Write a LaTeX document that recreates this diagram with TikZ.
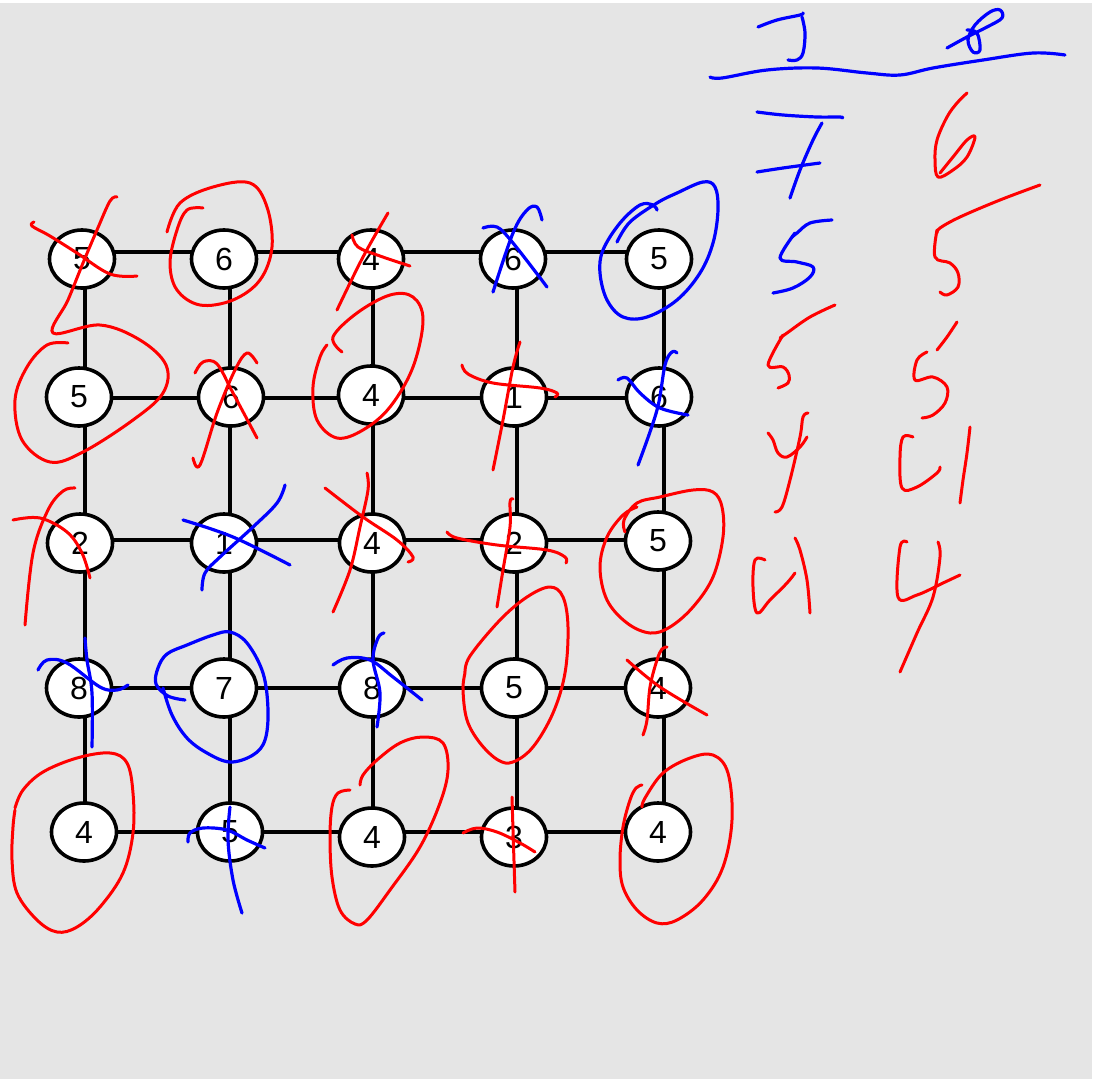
\documentclass[tikz,border=0pt]{standalone}
\usepackage{fontspec}
\setmainfont{Liberation Sans}
\usetikzlibrary{shapes.geometric}
\definecolor{bg}{HTML}{E5E5E5}
\definecolor{pr}{HTML}{FF0000}
\definecolor{pb}{HTML}{0000FF}
\begin{document}
\begin{tikzpicture}[x=1pt,y=-1pt,
  vert/.style={ellipse, draw=black, fill=white, line width=3.6pt, minimum width=65pt, minimum height=58pt, inner sep=0pt, font=\fontsize{32}{36}\selectfont},
  edge/.style={line width=3.8pt, draw=black},
  rs/.style={draw=pr, line width=3pt, line cap=round, line join=round},
  bs/.style={draw=pb, line width=3.2pt, line cap=round, line join=round},
  sm/.style={smooth, tension=0.6}]
\useasboundingbox (0,0) rectangle (1100,1082);
\fill[white] (0,0) rectangle (1100,1082);
\fill[bg] (0,3) rectangle (1092,1079);
% grid points
\foreach \r/\y in {a/252,b/398,c/540,d/688,e/832}{
  \foreach \c/\x in {1/85,2/230,3/373,4/517,5/664}{
    \coordinate (g\r\c) at (\x,\y);
  }
}
% edges
\foreach \r in {a,b,c,d,e}{
  \draw[edge] (g\r1) -- (g\r2) -- (g\r3) -- (g\r4) -- (g\r5);
}
\foreach \c in {1,...,5}{
  \draw[edge] (ga\c) -- (gb\c) -- (gc\c) -- (gd\c) -- (ge\c);
}
% nodes
\node[vert] (a1) at (82,259) {5};
\node[vert] (a2) at (224,259) {6};
\node[vert] (a3) at (371,259) {4};
\node[vert] (a4) at (513,259) {6};
\node[vert] (a5) at (659,259) {5};
\node[vert] (b1) at (79,397) {5};
\node[vert] (b2) at (231,397) {6};
\node[vert] (b3) at (371,395) {4};
\node[vert] (b4) at (514,397) {1};
\node[vert] (b5) at (659,397) {6};
\node[vert] (c1) at (80,543) {2};
\node[vert] (c2) at (224,543) {1};
\node[vert] (c3) at (372,543) {4};
\node[vert] (c4) at (514,543) {2};
\node[vert] (c5) at (658,541) {5};
\node[vert] (d1) at (79,688) {8};
\node[vert] (d2) at (224,688) {7};
\node[vert] (d3) at (372,688) {8};
\node[vert] (d4) at (514,688) {5};
\node[vert] (d5) at (658,688) {4};
\node[vert] (e1) at (84,832) {4};
\node[vert] (e2) at (230,832) {5};
\node[vert] (e3) at (372,837) {4};
\node[vert] (e4) at (514,837) {3};
\node[vert] (e5) at (658,832) {4};
% ---- red scribbles on grid ----
\draw[rs] plot[sm] coordinates {(34,222) (32,226) (50,236) (77,253) (110,274) (137,276)};
\draw[rs] plot[sm] coordinates {(117,197) (110,201) (97,230) (83,263) (68,300) (53,333) (100,325) (140,340) (166,365) (163,393) (133,420) (83,452) (50,462) (22,440) (15,400) (27,367) (47,345) (68,343)};
\draw[rs] plot[sm] coordinates {(167,232) (180,203) (213,187) (250,183) (267,207) (272,247) (260,280) (233,300) (200,305) (177,290) (170,263) (177,230) (187,210) (203,208)};
\draw[rs] plot[sm] coordinates {(195,373) (203,362) (217,364) (233,393) (257,438)};
\draw[rs] plot[sm] coordinates {(257,363) (247,353) (235,370) (217,413) (200,465) (193,458)};
\draw[rs] plot[sm] coordinates {(388,213) (363,257) (337,310)};
\draw[rs] plot[sm] coordinates {(352,235) (358,247) (380,256) (410,266)};
\draw[rs] plot[sm] coordinates {(342,352) (333,337) (357,313) (390,295) (413,297) (423,320) (413,367) (390,407) (363,430) (337,438) (317,420) (313,387) (320,357) (327,345)};
\draw[rs] plot[sm] coordinates {(520,342) (513,367) (503,420) (493,470)};
\draw[rs] plot[sm] coordinates {(462,365) (468,374) (493,383) (540,388) (557,393) (555,397)};
\draw[rs] plot[sm] coordinates {(75,488) (63,491) (48,510) (33,553) (25,625)};
\draw[rs] plot[sm] coordinates {(13,520) (40,518) (67,532) (82,553) (90,578)};
\draw[rs] plot[sm] coordinates {(325,488) (363,517) (397,540) (413,557) (408,562)};
\draw[rs] plot[sm] coordinates {(367,473) (368,490) (360,527) (350,570) (333,612)};
\draw[rs] plot[sm] coordinates {(513,499) (510,502) (510,527) (503,570) (497,607)};
\draw[rs] plot[sm] coordinates {(447,532) (457,538) (497,545) (547,550) (565,557) (566,563)};
\draw[rs] plot[sm] coordinates {(625,532) (624,520) (637,503) (660,497) (693,490) (713,492) (722,507) (723,537) (713,577) (693,607) (670,627) (650,633) (627,623) (607,600) (600,567) (607,537) (623,515) (637,507)};
\draw[rs] plot[sm] coordinates {(465,673) (470,656) (500,620) (527,597) (550,587) (563,597) (568,627) (565,673) (553,713) (533,747) (513,762) (498,760) (480,743) (467,720) (463,690) (465,673)};
\draw[rs] plot[sm] coordinates {(627,660) (660,687) (707,715)};
\draw[rs] plot[sm] coordinates {(667,647) (662,649) (657,660) (650,687) (647,720) (643,735)};
\draw[rs] plot[sm] coordinates {(15,808) (23,790) (43,772) (77,758) (110,753) (127,763) (133,793) (133,833) (123,873) (100,907) (77,927) (57,932) (37,920) (17,893) (12,860) (13,827) (15,810)};
\draw[rs] plot[sm] coordinates {(350,790) (338,793) (332,807) (330,837) (332,877) (340,910) (355,924) (367,920) (390,890) (420,847) (440,803) (448,770) (443,743) (423,737) (400,743) (377,760) (363,775) (360,785)};
\draw[rs] plot[sm] coordinates {(512,797) (513,830) (515,892)};
\draw[rs] plot[sm] coordinates {(463,833) (477,828) (497,832) (520,843) (535,852)};
\draw[rs] plot[sm] coordinates {(642,785) (636,788) (630,800) (623,827) (620,860) (623,887) (637,910) (657,923) (677,920) (703,900) (723,867) (732,820) (728,773) (713,755) (690,758) (663,773) (645,798) (642,807)};
% ---- blue scribbles on grid ----
\draw[bs] plot[sm] coordinates {(483,228) (497,227) (513,243) (547,287)};
\draw[bs] plot[sm] coordinates {(542,220) (537,207) (527,210) (513,233) (493,292)};
\draw[bs] plot[sm] coordinates {(617,242) (630,222) (657,203) (677,193) (703,182) (715,187) (718,210) (713,243) (700,273) (677,300) (647,317) (623,317) (607,300) (600,273) (603,250) (620,223) (640,205) (653,205) (657,210)};
\draw[bs] plot[sm] coordinates {(618,380) (627,378) (640,393) (660,408) (688,415)};
\draw[bs] plot[sm] coordinates {(677,353) (672,352) (665,365) (657,410) (638,465)};
\draw[bs] plot[sm] coordinates {(183,520) (233,537) (290,565)};
\draw[bs] plot[sm] coordinates {(285,485) (277,503) (253,527) (220,557) (205,573) (202,590)};
\draw[bs] plot[sm] coordinates {(38,670) (47,660) (67,663) (100,687) (117,690) (128,685)};
\draw[bs] plot[sm] coordinates {(85,638) (87,660) (92,693) (92,747)};
\draw[bs] plot[sm] coordinates {(185,700) (168,696) (156,684) (158,668) (167,654) (187,645) (213,635) (230,632) (247,643) (263,673) (268,710) (265,740) (253,755) (230,762) (207,753) (187,738) (172,715) (163,688)};
\draw[bs] plot[sm] coordinates {(333,665) (347,658) (370,660) (393,677) (422,700)};
\draw[bs] plot[sm] coordinates {(384,633) (378,638) (373,660) (380,693) (377,727)};
\draw[bs] plot[sm] coordinates {(188,842) (190,833) (203,828) (227,830) (247,840) (265,848)};
\draw[bs] plot[sm] coordinates {(230,807) (228,840) (233,880) (242,913)};
% ---- table on the right ----
\draw[bs] plot[sm] coordinates {(758,27) (777,20) (800,15) (803,13)};
\draw[bs] plot[sm] coordinates {(802,17) (805,33) (803,53) (797,60) (788,60)};
\draw[bs] plot[sm] coordinates {(947,48) (967,37) (987,27) (1002,18) (1000,10) (990,12) (975,25) (968,40) (973,52) (980,50) (977,33) (967,30)};
\draw[bs] plot[sm] coordinates {(710,77) (722,78) (767,70) (817,68) (867,73) (900,75) (933,68) (983,60) (1033,53) (1065,55)};
\draw[bs] plot[sm] coordinates {(757,112) (783,115) (817,117) (840,117) (842,118)};
\draw[bs] plot[sm] coordinates {(822,123) (813,140) (800,170) (790,198)};
\draw[bs] plot[sm] coordinates {(757,172) (783,168) (820,163)};
\draw[bs] plot[sm] coordinates {(832,220) (810,223) (797,233) (792,237)};
\draw[bs] plot[sm] coordinates {(795,233) (780,258) (797,262) (813,267) (810,277) (793,288) (773,293)};
\draw[rs] plot[sm] coordinates {(967,93) (957,103) (947,117) (937,140) (935,160) (938,177) (953,170) (967,157) (975,137) (967,140) (953,157) (940,173)};
\draw[rs] plot[sm] coordinates {(1040,185) (1000,200) (960,217) (940,228) (937,233)};
\draw[rs] plot[sm] coordinates {(937,230) (935,257) (950,263) (958,273) (958,287) (947,295) (940,292)};
\draw[rs] plot[sm] coordinates {(835,305) (810,317) (787,333) (780,338)};
\draw[rs] plot[sm] coordinates {(783,335) (768,365) (783,367) (789,375) (788,383) (778,388)};
\draw[rs] plot[sm] coordinates {(957,322) (947,337) (937,350)};
\draw[rs] plot[sm] coordinates {(927,352) (917,360) (915,380) (933,377) (947,387) (945,403) (933,415) (922,418)};
\draw[rs] plot[sm] coordinates {(768,433) (773,440) (778,453) (787,457) (800,447) (807,437)};
\draw[rs] plot[sm] coordinates {(808,413) (803,417) (800,437) (790,480) (782,507) (775,512)};
\draw[rs] plot[sm] coordinates {(913,437) (903,437) (900,457) (902,488) (917,487) (937,473) (940,467)};
\draw[rs] plot[sm] coordinates {(970,427) (967,453) (963,480) (960,503)};
\draw[rs] plot[sm] coordinates {(765,560) (755,560) (753,587) (757,613) (770,600) (787,583) (795,573)};
\draw[rs] plot[sm] coordinates {(795,538) (800,550) (807,580) (810,613)};
\draw[rs] plot[sm] coordinates {(907,542) (900,547) (898,597) (917,595) (943,583) (960,575)};
\draw[rs] plot[sm] coordinates {(938,542) (940,557) (933,597) (917,633) (900,672)};
\end{tikzpicture}
\end{document}
